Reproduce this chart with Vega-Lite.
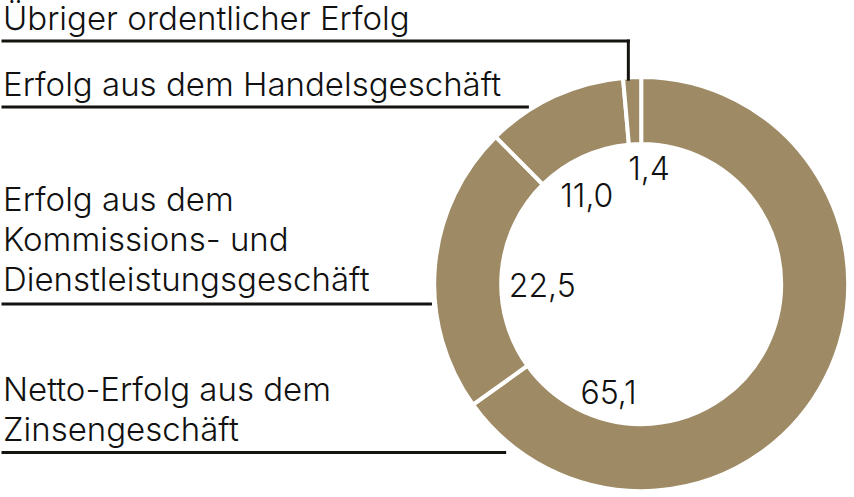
{
  "$schema": "https://vega.github.io/schema/vega-lite/v6.json",
  "width": 854,
  "height": 497,
  "autosize": {"type": "fit", "contains": "padding"},
  "padding": 0,
  "background": "white",
  "view": {"stroke": null},
  "config": {"font": "Inter"},
  "datasets": {
    "segments": [
      {"segment": "Netto-Erfolg aus dem Zinsengeschäft", "share": 65.1, "order": 1, "label": "65,1", "lx": 612, "ly": 408},
      {"segment": "Erfolg aus dem Kommissions- und Dienstleistungsgeschäft", "share": 22.5, "order": 2, "label": "22,5", "lx": 545, "ly": 300},
      {"segment": "Erfolg aus dem Handelsgeschäft", "share": 11.0, "order": 3, "label": "11,0", "lx": 590, "ly": 209},
      {"segment": "Übriger ordentlicher Erfolg", "share": 1.4, "order": 4, "label": "1,4", "lx": 653, "ly": 182}
    ],
    "captions": [
      {"lines": ["Übriger ordentlicher Erfolg"], "x": 0, "y": 30.5},
      {"lines": ["Erfolg aus dem Handelsgeschäft"], "x": 0, "y": 97},
      {"lines": ["Erfolg aus dem", "Kommissions- und", "Dienstleistungsgeschäft"], "x": 0, "y": 213},
      {"lines": ["Netto-Erfolg aus dem", "Zinsengeschäft"], "x": 0, "y": 405}
    ],
    "leaders": [
      {"x": 0, "x2": 632, "y": 41.5, "y2": 41.5},
      {"x": 632, "x2": 632, "y": 41.5, "y2": 80},
      {"x": 0, "x2": 530, "y": 108, "y2": 108},
      {"x": 0, "x2": 432, "y": 307, "y2": 307},
      {"x": 0, "x2": 507, "y": 457, "y2": 457}
    ]
  },
  "layer": [
    {
      "data": {"name": "segments"},
      "mark": {"type": "arc", "outerRadius": 207, "innerRadius": 140, "fill": "#9E8B66", "stroke": "white", "strokeWidth": 4},
      "encoding": {
        "theta": {"field": "share", "type": "quantitative", "stack": true},
        "order": {"field": "order", "type": "quantitative"},
        "x": {"datum": 645, "type": "quantitative", "scale": {"domain": [0, 854], "nice": false, "zero": false}, "axis": null},
        "y": {"datum": 287, "type": "quantitative", "scale": {"domain": [0, 497], "nice": false, "zero": false, "reverse": true}, "axis": null}
      }
    },
    {
      "data": {"name": "segments"},
      "mark": {"type": "text", "align": "center", "baseline": "alphabetic", "fontSize": 32, "fontWeight": 300, "fill": "#111111"},
      "encoding": {
        "x": {"field": "lx", "type": "quantitative", "axis": null},
        "y": {"field": "ly", "type": "quantitative", "axis": null},
        "text": {"field": "label"}
      }
    },
    {
      "data": {"name": "leaders"},
      "mark": {"type": "rule", "stroke": "#15130f", "strokeWidth": 3, "strokeCap": "square"},
      "encoding": {
        "x": {"field": "x", "type": "quantitative", "axis": null},
        "x2": {"field": "x2"},
        "y": {"field": "y", "type": "quantitative", "axis": null},
        "y2": {"field": "y2"}
      }
    },
    {
      "data": {"name": "captions"},
      "mark": {"type": "text", "align": "left", "baseline": "alphabetic", "fontSize": 33, "fontWeight": 300, "lineHeight": 40, "fill": "#111111"},
      "encoding": {
        "x": {"field": "x", "type": "quantitative", "axis": null},
        "y": {"field": "y", "type": "quantitative", "axis": null},
        "text": {"field": "lines"}
      }
    }
  ]
}
